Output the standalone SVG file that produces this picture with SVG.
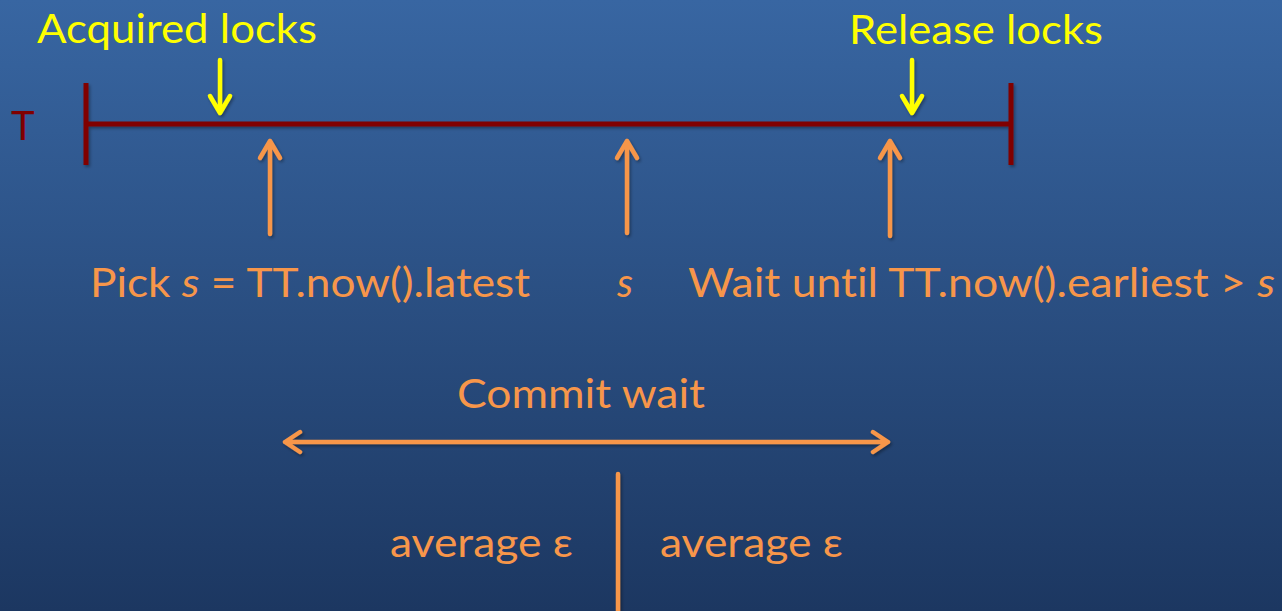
<svg xmlns="http://www.w3.org/2000/svg" width="1282" height="611" viewBox="0 0 1282 611">
  <defs>
    <linearGradient id="bg" x1="0" y1="0" x2="0" y2="1">
      <stop offset="0" stop-color="#3866a2"/>
      <stop offset="1" stop-color="#1c3761"/>
    </linearGradient>
    <filter id="shadow" x="-10%" y="-10%" width="120%" height="130%">
      <feDropShadow dx="1.5" dy="2" stdDeviation="1.5" flood-color="#000" flood-opacity="0.35"/>
    </filter>
    <style>
      .lbl { font-family: Lato, "Open Sans", "Liberation Sans", sans-serif; font-size: 40px; font-variant-ligatures: none; }
      .yel { fill: #ffff00; }
      .org { fill: #f7964a; }
      .red { fill: #800000; }
      .timeline { stroke: #800000; stroke-width: 5; fill: none; }
      .yarrow { stroke: #ffff00; stroke-width: 4.5; fill: none; stroke-linecap: round; stroke-linejoin: round; }
      .oarrow { stroke: #f7964a; stroke-width: 4.5; fill: none; stroke-linecap: round; stroke-linejoin: round; }
    </style>
  </defs>

  <rect width="1282" height="611" fill="url(#bg)"/>

  <!-- transaction timeline -->
  <g id="timeline" filter="url(#shadow)">
    <line class="timeline" x1="86" y1="124" x2="1011" y2="124"/>
    <line class="timeline" x1="86" y1="83" x2="86" y2="165"/>
    <line class="timeline" x1="1011" y1="83" x2="1011" y2="165"/>
  </g>
  <g id="label-T">
    <text class="lbl red" x="11" y="140" font-size="36">T</text>
  </g>

  <g id="acquired">
    <text class="lbl yel" x="37" y="43" textLength="280" lengthAdjust="spacingAndGlyphs">Acquired locks</text>
  </g>
  <g id="release">
    <text class="lbl yel" x="849" y="44" textLength="254" lengthAdjust="spacingAndGlyphs">Release locks</text>
  </g>

  <g id="pick">
    <text class="lbl org" x="90" y="297" textLength="440" lengthAdjust="spacingAndGlyphs">Pick <tspan font-style="italic">s</tspan> = TT.now().latest</text>
  </g>
  <g id="stamp">
    <text class="lbl org" x="617" y="297" font-style="italic">s</text>
  </g>
  <g id="wait">
    <text class="lbl org" x="688" y="297" textLength="587" lengthAdjust="spacingAndGlyphs">Wait until TT.now().earliest &gt; <tspan font-style="italic">s</tspan></text>
  </g>

  <g id="commit-wait">
    <text class="lbl org" x="457" y="408" textLength="248" lengthAdjust="spacingAndGlyphs">Commit wait</text>
  </g>
  <g id="eps-left">
    <text class="lbl org" x="390" y="557" textLength="183" lengthAdjust="spacingAndGlyphs">average ε</text>
  </g>
  <g id="eps-right">
    <text class="lbl org" x="660" y="557" textLength="183" lengthAdjust="spacingAndGlyphs">average ε</text>
  </g>

  <!-- connectors -->
  <g id="connectors" filter="url(#shadow)">
    <!-- lock arrows pointing down onto the timeline -->
    <path class="yarrow" d="M220 60 V113 M210 96 L220 113 L230 96"/>
    <path class="yarrow" d="M912 60 V113 M902 96 L912 113 L922 96"/>
    <!-- timestamp arrows pointing up to the timeline -->
    <path class="oarrow" d="M270 234 V141 M260 158 L270 141 L280 158"/>
    <path class="oarrow" d="M627 233 V141 M617 158 L627 141 L637 158"/>
    <path class="oarrow" d="M890 236 V141 M880 158 L890 141 L900 158"/>
    <!-- commit wait span -->
    <path class="oarrow" d="M285 442 H888 M300 432 L285 442 L300 452 M873 432 L888 442 L873 452"/>
    <!-- midpoint divider -->
    <line class="oarrow" x1="618" y1="474" x2="618" y2="615" stroke-linecap="butt"/>
  </g>
</svg>
